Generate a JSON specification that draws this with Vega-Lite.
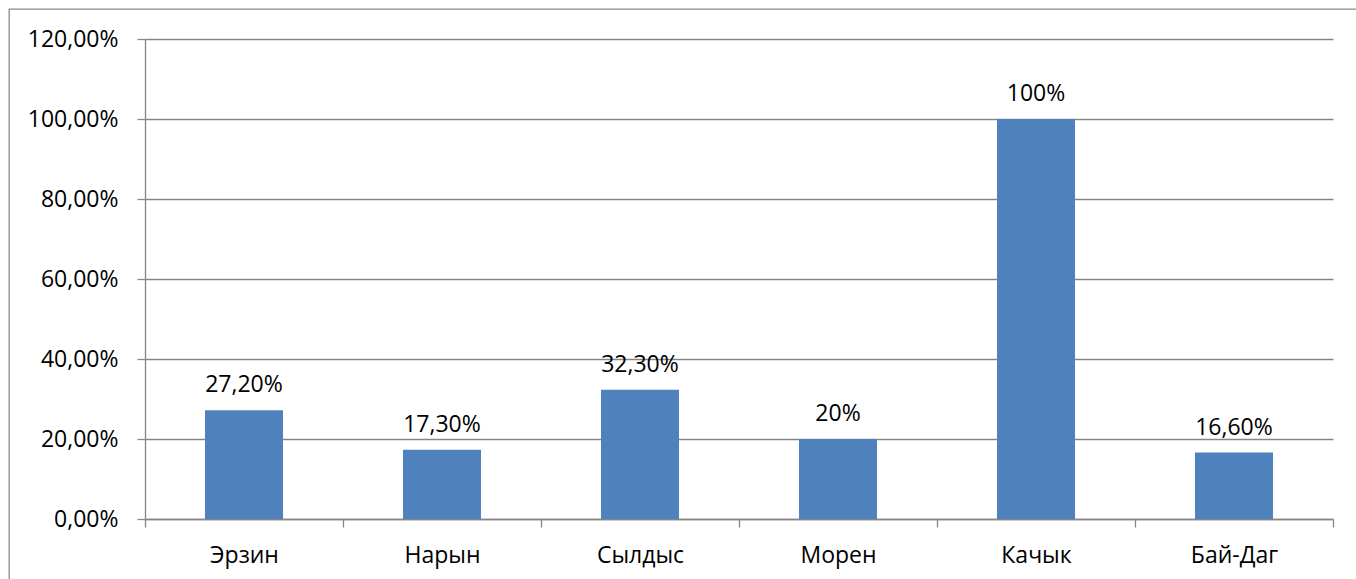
{
  "$schema": "https://vega.github.io/schema/vega-lite/v6.json",
  "width": 1350,
  "height": 573,
  "autosize": {"type": "none"},
  "padding": {"left": 9, "top": 9, "right": 0, "bottom": 0},
  "background": "white",
  "config": {
    "view": {"stroke": "#898989", "strokeWidth": 1.3},
    "font": "Open Sans"
  },
  "data": {
    "values": [
      {"region": "Эрзин", "value": 27.2, "label": "27,20%"},
      {"region": "Нарын", "value": 17.3, "label": "17,30%"},
      {"region": "Сылдыс", "value": 32.3, "label": "32,30%"},
      {"region": "Морен", "value": 20, "label": "20%"},
      {"region": "Качык", "value": 100, "label": "100%"},
      {"region": "Бай-Даг", "value": 16.6, "label": "16,60%"}
    ]
  },
  "encoding": {
    "x": {
      "field": "region",
      "type": "nominal",
      "sort": null,
      "scale": {"range": [136, 1324], "paddingInner": 0, "paddingOuter": 0},
      "axis": {
        "title": null,
        "labelAngle": 0,
        "offset": -63,
        "tickBand": "extent",
        "tickSize": 8,
        "tickColor": "#868686",
        "tickWidth": 1.3,
        "domainColor": "#868686",
        "domainWidth": 1.3,
        "labelPadding": 35.5,
        "labelBaseline": "alphabetic",
        "labelFont": "Open Sans",
        "labelFontSize": 23,
        "labelColor": "black",
        "grid": false
      }
    },
    "y": {
      "field": "value",
      "type": "quantitative",
      "scale": {"domain": [0, 120], "range": [510, 30], "nice": false},
      "axis": {
        "title": null,
        "values": [0, 20, 40, 60, 80, 100, 120],
        "labelExpr": "replace(format(datum.value, '.2f'), '.', ',') + '%'",
        "offset": -136,
        "grid": true,
        "gridColor": "#868686",
        "gridWidth": 1.3,
        "domainColor": "#868686",
        "domainWidth": 1.3,
        "tickColor": "#868686",
        "tickWidth": 1.3,
        "tickSize": 8,
        "labelPadding": 19,
        "labelFont": "Open Sans",
        "labelFontSize": 23,
        "labelColor": "black"
      }
    }
  },
  "layer": [
    {"mark": {"type": "bar", "color": "#4f81bd", "width": {"band": 0.394}}},
    {
      "mark": {"type": "text", "dy": -18, "baseline": "alphabetic", "fontSize": 23, "font": "Open Sans", "color": "black"},
      "encoding": {"text": {"field": "label"}}
    }
  ]
}
